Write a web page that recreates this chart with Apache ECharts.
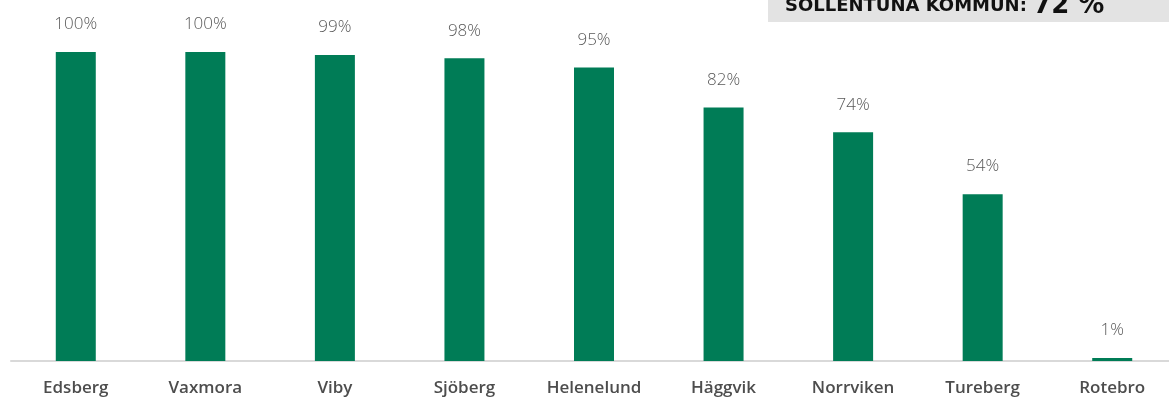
<!DOCTYPE html>
<html><head><meta charset="utf-8">
<script src="https://cdn.jsdelivr.net/npm/echarts@6/dist/echarts.min.js"></script>
<style>html,body{margin:0;padding:0;background:#fff}#c{width:1169px;height:400px}</style>
</head><body><div id="c"></div>
<script>
const categories = ['Edsberg','Vaxmora','Viby','Sjöberg','Helenelund','Häggvik','Norrviken','Tureberg','Rotebro'];
const values = [100,100,99,98,95,82,74,54,1];
const titleText = 'SOLLENTUNA KOMMUN: ';
const titleValue = '72 %';

const chart = echarts.init(document.getElementById('c'), null, {renderer:'canvas'});
chart.setOption({
  animation:false,
  grid:{left:11, right:-8, top:52, bottom:39, containLabel:false, outerBoundsMode:'none'},
  xAxis:{type:'category', data:categories,
    axisLine:{lineStyle:{color:'#d9d9d9', width:2}},
    axisTick:{show:false},
    axisLabel:{margin:19, color:'#4d4d4d', fontSize:17, fontWeight:600, fontFamily:'Open Sans'}},
  yAxis:{type:'value', min:0, max:100, show:false},
  series:[{type:'bar', data:values, barWidth:40,
    itemStyle:{color:'#007c56'},
    label:{show:true, position:'top', distance:19, formatter:'{c}%', color:'#595959', fontSize:17, fontFamily:'Open Sans', fontWeight:300}}],
  graphic:[
    {type:'rect', shape:{x:768,y:0,width:401,height:22}, style:{fill:'#e3e3e3'}, silent:true},
    {type:'text', x:785, y:19, style:{text:'{a|'+titleText+'}{b|'+titleValue+'}', verticalAlign:'bottom', rich:{
      a:{fontSize:18, fontWeight:'bold', fontFamily:'DejaVu Sans', fill:'#111111'},
      b:{fontSize:26, fontWeight:'bold', fontFamily:'DejaVu Sans', fill:'#111111'}
    }}}
  ]
});
</script></body></html>
